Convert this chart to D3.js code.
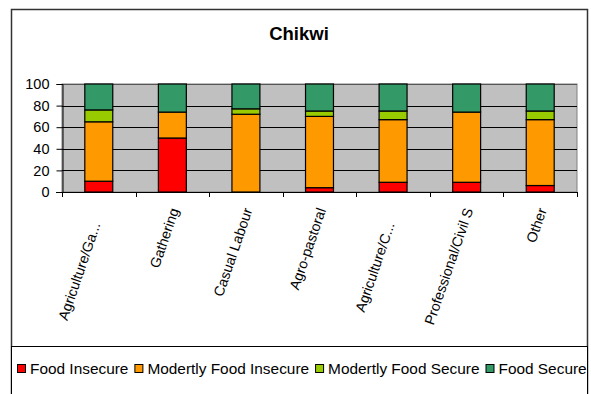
<!DOCTYPE html>
<html>
<head>
<meta charset="utf-8">
<script src="https://cdn.jsdelivr.net/npm/d3@7"></script>
<style>
  html, body { margin: 0; padding: 0; background: #fff; }
  svg { display: block; font-family: "Liberation Sans", Arial, sans-serif; }
</style>
</head>
<body>
<svg id="chart" width="591" height="394"></svg>
<script>
// Livelihood groups and share of households (%) in each food security class
const categories = ["Agriculture/Ga...", "Gathering", "Casual Labour", "Agro-pastoral",
                    "Agriculture/C...", "Professional/Civil S", "Other"];
const foodInsecure          = [10, 50, 0, 4, 9, 9, 6];
const moderatelyInsecure    = [55, 24, 72, 66, 58, 65, 61];
const moderatelySecure      = [11, 0, 5, 5, 8, 0, 8];
const foodSecure            = [24, 26, 23, 25, 25, 26, 25];
const seriesNames = ["Food Insecure", "Modertly Food Insecure", "Modertly Food Secure", "Food Secure"];
const seriesColors = ["#FF0000", "#FF9900", "#99CC00", "#339966"];
const yTicks = [0, 20, 40, 60, 80, 100];

const svg = d3.select("#chart");

// outer chart frame
svg.append("rect").attr("x", 11.5).attr("y", 9.5).attr("width", 576).attr("height", 400)
  .attr("fill", "#fff").attr("stroke", "#333").attr("stroke-width", 1.5);

svg.append("text").attr("x", 299).attr("y", 40).attr("text-anchor", "middle")
  .attr("font-size", 18.5).attr("font-weight", "bold").text("Chikwi");

const plot = { left: 62, right: 577, top: 84, bottom: 192 };

const x = d3.scaleBand().domain(categories).range([plot.left, plot.right]).paddingInner(0.62).paddingOuter(0.31);
const xOuter = d3.scaleBand().domain(categories).range([plot.left, plot.right]);
const y = d3.scaleLinear().domain([0, 100]).range([plot.bottom, plot.top]);

// plot area
svg.append("rect").attr("x", plot.left).attr("y", plot.top)
  .attr("width", plot.right - plot.left).attr("height", plot.bottom - plot.top)
  .attr("fill", "#C0C0C0").attr("stroke", "#808080").attr("stroke-width", 1);

// gridlines
svg.append("g").selectAll("line").data(yTicks.filter(t => t > 0)).join("line")
  .attr("x1", plot.left).attr("x2", plot.right)
  .attr("y1", d => Math.round(y(d)) + 0.5).attr("y2", d => Math.round(y(d)) + 0.5)
  .attr("stroke", d => d === 100 ? "#555" : "#000").attr("stroke-width", 1);

// stacked bars
const rows = categories.map((c, i) => ({
  category: c,
  s0: foodInsecure[i], s1: moderatelyInsecure[i], s2: moderatelySecure[i], s3: foodSecure[i]
}));
const stack = d3.stack().keys(["s0", "s1", "s2", "s3"])(rows);

svg.append("g").selectAll("g").data(stack).join("g")
  .attr("fill", (d, i) => seriesColors[i])
  .selectAll("rect").data(d => d.filter(p => p[1] - p[0] > 0)).join("rect")
  .attr("x", d => x(d.data.category))
  .attr("width", x.bandwidth())
  .attr("y", d => y(d[1]))
  .attr("height", d => y(d[0]) - y(d[1]))
  .attr("stroke", "#000").attr("stroke-width", 1.2);

// y axis
const yAxis = svg.append("g").attr("transform", `translate(${plot.left + 0.5},0)`)
  .call(d3.axisLeft(y).tickValues(yTicks).tickSize(6).tickPadding(7));
yAxis.select(".domain").attr("stroke", "#000");
yAxis.selectAll("line").attr("stroke", "#000");
yAxis.selectAll("text").attr("font-size", 14.5).attr("fill", "#000")
  .attr("font-family", "Liberation Sans, Arial, sans-serif");

// x axis baseline and category separators
svg.append("line").attr("x1", plot.left - 6).attr("x2", plot.right)
  .attr("y1", plot.bottom + 0.5).attr("y2", plot.bottom + 0.5).attr("stroke", "#000");
const bounds = categories.map(c => xOuter(c)).concat([plot.right]);
svg.append("g").selectAll("line").data(bounds).join("line")
  .attr("x1", d => Math.round(d) + 0.5).attr("x2", d => Math.round(d) + 0.5)
  .attr("y1", plot.bottom).attr("y2", plot.bottom + 5).attr("stroke", "#000");

// rotated category labels; truncated names keep the room of their hidden tail
svg.append("g").selectAll("text").data(categories).join("text")
  .attr("transform", d => `translate(${xOuter(d) + xOuter.bandwidth() / 2 + 2},${plot.bottom + 16.5}) rotate(-71)`)
  .attr("text-anchor", "end").attr("dy", "0.35em")
  .attr("dx", d => d.endsWith("...") ? -15 : 0)
  .attr("font-size", 14.2).text(d => d);

// legend
svg.append("rect").attr("x", 11.5).attr("y", 346.5).attr("width", 576).attr("height", 60)
  .attr("fill", "#fff").attr("stroke", "#000").attr("stroke-width", 1);

const legend = svg.append("g");
let lx = 17;
seriesNames.forEach((name, i) => {
  legend.append("rect").attr("x", lx + 0.5).attr("y", 364.5).attr("width", 8).attr("height", 8)
    .attr("fill", seriesColors[i]).attr("stroke", "#000").attr("stroke-width", 1);
  const t = legend.append("text").attr("x", lx + 13).attr("y", 374)
    .attr("font-size", 15.4).text(name);
  lx += 13 + t.node().getComputedTextLength() + 6;
});
</script>
</body>
</html>
